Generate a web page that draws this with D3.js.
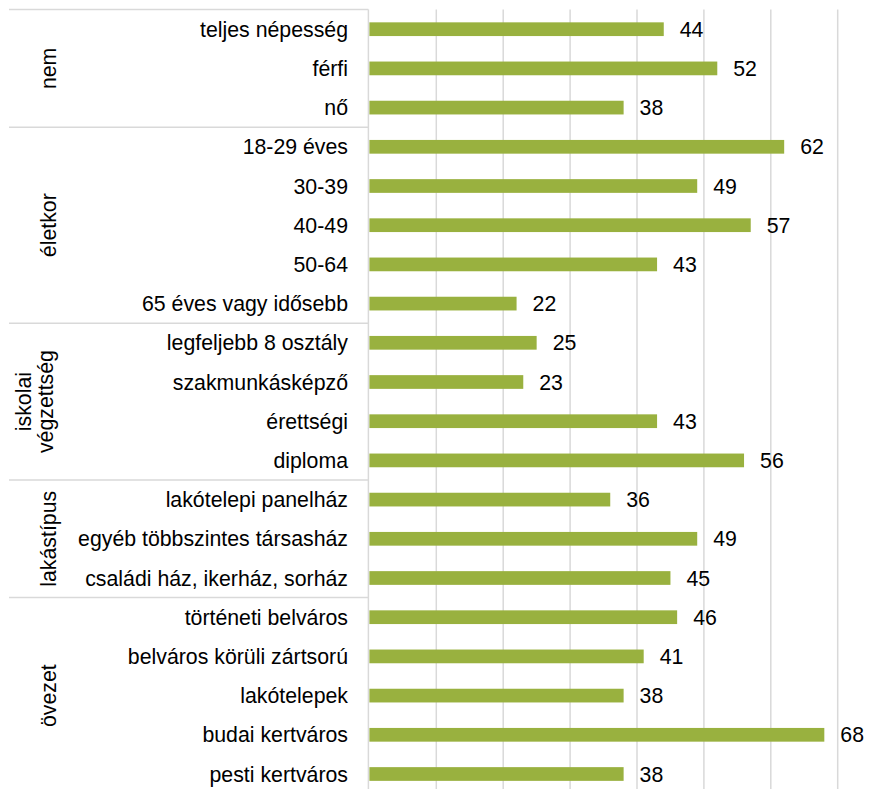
<!DOCTYPE html>
<html>
<head>
<meta charset="utf-8">
<script src="https://cdn.jsdelivr.net/npm/d3@7"></script>
<style>
  html, body { margin: 0; padding: 0; background: #fff; }
  svg { display: block; font-family: "Liberation Sans", Arial, sans-serif; }
</style>
</head>
<body>
<div id="chart"></div>
<script>
// groups, in order, with how many rows each one spans
const groupNames = ['nem', 'életkor', 'iskolai|végzettség', 'lakástípus', 'övezet'];
const groupSizes = [3, 5, 4, 3, 5];

const categories = [
  'teljes népesség', 'férfi', 'nő',
  '18-29 éves', '30-39', '40-49', '50-64', '65 éves vagy idősebb',
  'legfeljebb 8 osztály', 'szakmunkásképző', 'érettségi', 'diploma',
  'lakótelepi panelház', 'egyéb többszintes társasház', 'családi ház, ikerház, sorház',
  'történeti belváros', 'belváros körüli zártsorú', 'lakótelepek', 'budai kertváros', 'pesti kertváros'
];
const values = [44, 52, 38, 62, 49, 57, 43, 22, 25, 23, 43, 56, 36, 49, 45, 46, 41, 38, 68, 38];
const gridTicks = [10, 20, 30, 40, 50, 60, 70, 80];

const width = 888;
const height = 789;
const plotLeft = 369.4;
const plotTop = 9.6;
const rowStep = 39.2;
const lineLeft = 9;
const fontSize = '21.3px';

const svg = d3.select('#chart').append('svg')
  .attr('width', width)
  .attr('height', height);

const x = d3.scaleLinear()
  .domain([0, 80])
  .range([plotLeft, plotLeft + 80 * 6.69]);

// row scale (whole rows) and bar scale (bars inside each row)
const rows = d3.scaleBand()
  .domain(d3.range(categories.length))
  .range([plotTop, plotTop + categories.length * rowStep]);

const y = d3.scaleBand()
  .domain(d3.range(categories.length))
  .range(rows.range())
  .paddingInner(0.65)
  .paddingOuter(0.325);

const bottom = rows.range()[1];

// gridlines
svg.append('g')
  .selectAll('line')
  .data(gridTicks)
  .enter().append('line')
  .attr('x1', d => x(d))
  .attr('x2', d => x(d))
  .attr('y1', plotTop)
  .attr('y2', bottom)
  .style('stroke', '#d9d9d9')
  .style('stroke-width', 1.5);

// category axis line
svg.append('line')
  .attr('x1', x(0) - 1)
  .attr('x2', x(0) - 1)
  .attr('y1', plotTop)
  .attr('y2', bottom)
  .style('stroke', '#d9d9d9')
  .style('stroke-width', 1.5);

// group boundaries
let start = 0;
const groups = groupNames.map((name, i) => {
  const g = { name: name, start: start, end: start + groupSizes[i] };
  start += groupSizes[i];
  return g;
});

const bounds = [0].concat(groups.map(g => g.end));
svg.append('g')
  .selectAll('line')
  .data(bounds)
  .enter().append('line')
  .attr('x1', lineLeft)
  .attr('x2', x(0) - 1)
  .attr('y1', d => d < categories.length ? rows(d) : bottom)
  .attr('y2', d => d < categories.length ? rows(d) : bottom)
  .style('stroke', '#d9d9d9')
  .style('stroke-width', 1.5);

// bars
svg.append('g')
  .selectAll('rect')
  .data(values)
  .enter().append('rect')
  .attr('x', x(0))
  .attr('y', (d, i) => y(i))
  .attr('width', d => x(d) - x(0))
  .attr('height', y.bandwidth())
  .style('fill', '#99b13f');

// value labels
svg.append('g')
  .selectAll('text')
  .data(values)
  .enter().append('text')
  .attr('x', d => x(d) + 16)
  .attr('y', (d, i) => y(i) + y.bandwidth() / 2 + 7.5)
  .style('font-size', fontSize)
  .style('fill', '#000')
  .text(d => d);

// category labels
svg.append('g')
  .selectAll('text')
  .data(categories)
  .enter().append('text')
  .attr('x', 348)
  .attr('y', (d, i) => y(i) + y.bandwidth() / 2 + 7.5)
  .attr('text-anchor', 'end')
  .style('font-size', fontSize)
  .style('fill', '#000')
  .text(d => d);

// group labels, rotated
const groupLabel = svg.append('g')
  .selectAll('text')
  .data(groups)
  .enter().append('text')
  .attr('transform', d => {
    const cy = (rows(d.start) + (d.end < categories.length ? rows(d.end) : bottom)) / 2;
    const lines = d.name.split('|').length;
    const bx = lines > 1 ? 31 : 56;
    return 'translate(' + bx + ',' + cy + ') rotate(-90)';
  })
  .attr('text-anchor', 'middle')
  .style('font-size', fontSize)
  .style('fill', '#000');

groupLabel.selectAll('tspan')
  .data(d => d.name.split('|'))
  .enter().append('tspan')
  .attr('x', 0)
  .attr('y', (d, i) => i * 22)
  .text(d => d);
</script>
</body>
</html>
